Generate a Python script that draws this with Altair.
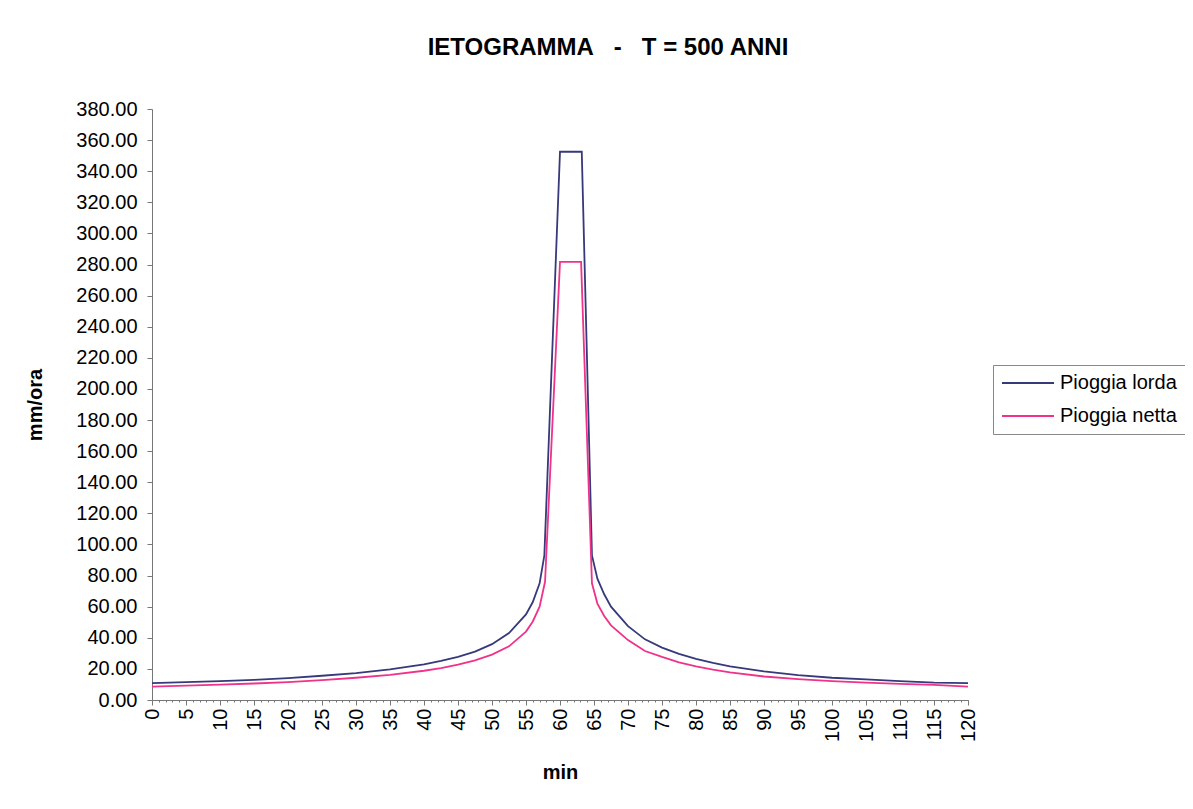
import altair as alt
import pandas as pd

# ---- data ----
lorda_min = [0, 5, 10, 15, 20, 25, 30, 35, 40, 42.5, 45, 47.5, 50, 52.5, 55, 56, 57, 57.7,
             60, 63.2, 64.7, 65.5, 66.5, 67.5, 70, 72.5, 75, 77.5, 80, 82.5, 85, 90, 95,
             100, 105, 110, 115, 120]
lorda_val = [10.8, 11.5, 12.1, 13.0, 14.1, 15.6, 17.3, 19.7, 22.9, 25.1, 27.7, 31.1, 35.9, 43.0,
             55.0, 63.0, 75.0, 93.0, 352.5, 352.5, 93.0, 78.0, 68.0, 60.0, 47.5, 39.0, 33.7,
             29.6, 26.4, 23.8, 21.6, 18.4, 16.0, 14.3, 13.2, 12.1, 11.2, 10.8]

netta_min = [0, 5, 10, 15, 20, 25, 30, 35, 40, 42.5, 45, 47.5, 50, 52.5, 55, 56, 57, 57.8,
             60, 63.1, 64.7, 65.5, 66.5, 67.5, 70, 72.5, 75, 77.5, 80, 82.5, 85, 90, 95,
             100, 105, 110, 115, 120]
netta_val = [8.6, 9.3, 9.9, 10.6, 11.5, 12.8, 14.3, 16.2, 18.8, 20.5, 22.7, 25.5, 29.2, 34.5,
             44.0, 50.5, 60.0, 76.0, 281.7, 281.7, 75.0, 62.0, 54.0, 48.0, 38.5, 31.5, 27.7,
             24.2, 21.6, 19.5, 17.7, 15.1, 13.4, 12.1, 11.2, 10.4, 9.7, 8.6]

series_names = ["Pioggia lorda", "Pioggia netta"]
series_colors = ["#36397a", "#f0328a"]

x_major = list(range(0, 121, 5))
x_minor = list(range(0, 121, 1))
y_ticks = list(range(0, 381, 20))

df = pd.concat([
    pd.DataFrame({"min": lorda_min, "val": lorda_val, "serie": series_names[0]}),
    pd.DataFrame({"min": netta_min, "val": netta_val, "serie": series_names[1]}),
], ignore_index=True)

FONT = "Liberation Sans"
AXIS_COLOR = "#777777"

x_scale = alt.Scale(domain=[0, 120], nice=False, zero=False)
y_scale = alt.Scale(domain=[0, 380], nice=False)

lines = alt.Chart(df).mark_line(strokeWidth=1.8).encode(
    x=alt.X("min:Q", scale=x_scale,
            axis=alt.Axis(values=x_major, labelAngle=270, labelFontSize=20, labelFont=FONT,
                          labelColor="#000000", labelPadding=3, labelOverlap=False,
                          labelFlush=False, tickSize=5, tickColor=AXIS_COLOR,
                          domainColor=AXIS_COLOR, title="min", titleFont=FONT,
                          titleFontSize=20, titleFontWeight="bold", titleColor="#000000",
                          titlePadding=21, grid=False, orient="bottom")),
    y=alt.Y("val:Q", scale=y_scale,
            axis=alt.Axis(values=y_ticks, format=".2f", labelFontSize=20, labelFont=FONT,
                          labelColor="#000000", labelPadding=10, labelOverlap=False,
                          labelFlush=False, tickSize=5, orient="left",
                          tickColor=AXIS_COLOR, domainColor=AXIS_COLOR, title="mm/ora",
                          titleFont=FONT, titleFontSize=20, titleFontWeight="bold",
                          titleColor="#000000", titlePadding=30, grid=False)),
    color=alt.Color("serie:N",
                    scale=alt.Scale(domain=series_names, range=series_colors),
                    legend=alt.Legend(title=None, orient="none", legendX=841, legendY=256,
                                      symbolType="stroke", symbolSize=2704,
                                      symbolStrokeWidth=1.8, labelFontSize=20,
                                      labelFont=FONT, labelColor="#000000",
                                      strokeColor="#888888", fillColor="white",
                                      padding=8, clipHeight=20, rowPadding=13,
                                      labelOffset=5)),
)

minor = alt.Chart(df).mark_line(opacity=0).encode(
    x=alt.X("min:Q", scale=x_scale,
            axis=alt.Axis(values=x_minor, labels=False, tickSize=2, domain=False,
                          grid=False, title=None, orient="bottom", tickColor=AXIS_COLOR)),
    y=alt.Y("val:Q", scale=y_scale, axis=None),
    detail="serie:N",
)

chart = alt.layer(lines, minor).resolve_axis(x="independent", y="independent").properties(
    width=816,
    height=591,
    title=alt.Title(text="IETOGRAMMA\u00a0\u00a0\u00a0-\u00a0\u00a0\u00a0T = 500 ANNI",
                    fontSize=24, font=FONT, fontWeight="bold", color="#000000",
                    anchor="middle", dx=48, offset=39),
    autosize=alt.AutoSizeParams(type="none"),
    padding={"left": 144, "top": 101, "right": 217, "bottom": 95},
).configure_view(stroke=None)

chart.save("out.html", embed_options={"renderer": "svg", "actions": False})
